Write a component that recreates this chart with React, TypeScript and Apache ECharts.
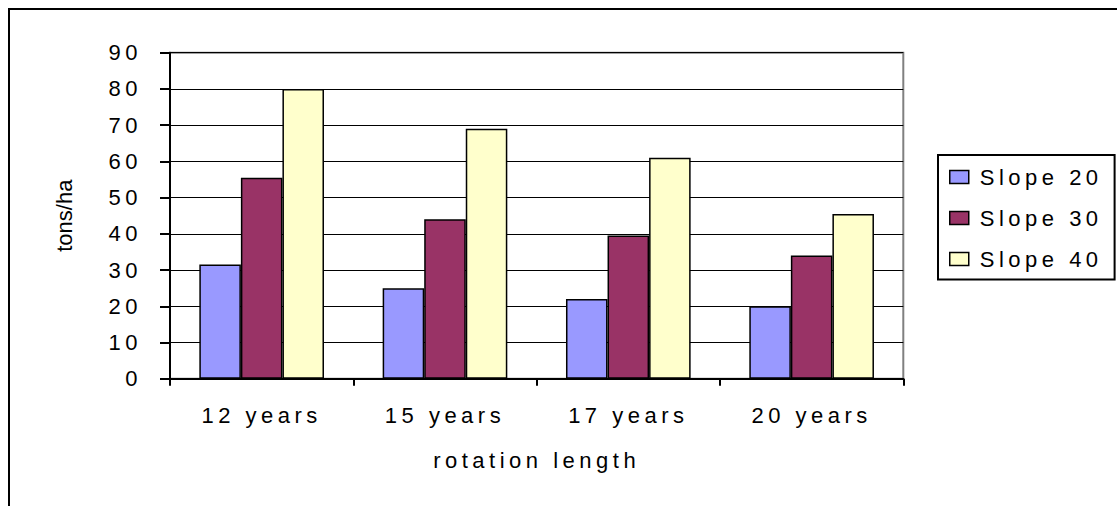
import React, { useEffect, useRef } from "react";
import * as echarts from "echarts";

const categories = ["12 years", "15 years", "17 years", "20 years"];
const seriesNames = ["Slope 20", "Slope 30", "Slope 40"];
const slope20 = [31.5, 25, 22, 20];
const slope30 = [55.5, 44, 39.5, 34];
const slope40 = [80, 69, 61, 45.5];
const seriesColors = ["#9999FF", "#993366", "#FFFFCC"];
const yTicks = { min: 0, max: 90, interval: 10 };

const FONT = "'Liberation Sans', Arial, sans-serif";
const SPACING = "4.5px";

export default function App() {
  const ref = useRef<HTMLDivElement>(null);
  useEffect(() => {
    if (!ref.current) return;
    const chart = echarts.init(ref.current, undefined, { renderer: "svg" });
    const values = [slope20, slope30, slope40];
    chart.setOption({
      animation: false,
      backgroundColor: "#ffffff",
      textStyle: { fontFamily: FONT, color: "#000" },
      graphic: [
        {
          type: "rect",
          shape: { x: 9, y: 9, width: 1300, height: 700 },
          style: { fill: "none", stroke: "#000", lineWidth: 2 },
          silent: true,
          z: 100,
        },
      ],
      grid: {
        left: 170,
        top: 52.7,
        right: 213.7,
        bottom: 127.3,
        show: true,
        borderColor: "#808080",
        borderWidth: 2,
        backgroundColor: "#ffffff",
      },
      legend: {
        orient: "vertical",
        left: 938,
        top: 155,
        padding: [11, 48, 9.5, 11],
        itemWidth: 19,
        itemHeight: 13,
        itemGap: 19,
        icon: "rect",
        borderColor: "#000",
        borderWidth: 2,
        backgroundColor: "#fff",
        itemStyle: { borderColor: "#000", borderWidth: 1.5 },
        textStyle: { fontSize: 22, color: "#000", fontFamily: FONT, padding: [0, 0, 0, 6] },
        data: seriesNames,
      },
      xAxis: {
        type: "category",
        data: categories,
        name: "rotation length",
        nameLocation: "middle",
        nameGap: 71,
        nameTextStyle: { fontSize: 22, color: "#000", fontFamily: FONT },
        axisLine: { lineStyle: { color: "#000", width: 2 } },
        axisTick: { show: true, length: 7, lineStyle: { color: "#000", width: 2 } },
        axisLabel: { fontSize: 22, color: "#000", margin: 26, fontFamily: FONT },
      },
      yAxis: {
        type: "value",
        min: yTicks.min,
        max: yTicks.max,
        interval: yTicks.interval,
        name: "tons/ha",
        nameLocation: "middle",
        nameGap: 95,
        nameTextStyle: { fontSize: 22, color: "#000", fontFamily: FONT },
        axisLine: { show: true, lineStyle: { color: "#000", width: 2 } },
        axisTick: { show: true, length: 10, lineStyle: { color: "#000", width: 2 } },
        axisLabel: { fontSize: 22, color: "#000", margin: 28, fontFamily: FONT, padding: [4, 0, 0, 0] },
        splitLine: { show: true, lineStyle: { color: "#000", width: 1 } },
      },
      series: seriesNames.map((name, i) => ({
        name,
        type: "bar",
        data: values[i],
        barGap: "0%",
        barCategoryGap: "32%",
        itemStyle: { color: seriesColors[i], borderColor: "#000", borderWidth: 1.5 },
      })),
    });
    const applySpacing = () => {
      const el = ref.current;
      if (!el) return;
      el.querySelectorAll("text").forEach((t) => {
        if ((t.textContent || "").trim() !== "tons/ha") {
          t.setAttribute("letter-spacing", SPACING);
          (t as SVGTextElement).style.letterSpacing = SPACING;
        }
      });
    };
    chart.on("finished", applySpacing);
    try {
      (chart.getZr() as any).flush();
    } catch (e) {}
    applySpacing();
    return () => {
      chart.dispose();
    };
  }, []);
  return (
    <div
      ref={ref}
      style={{ position: "absolute", left: 0, top: 0, width: 1117, height: 506 }}
    />
  );
}
